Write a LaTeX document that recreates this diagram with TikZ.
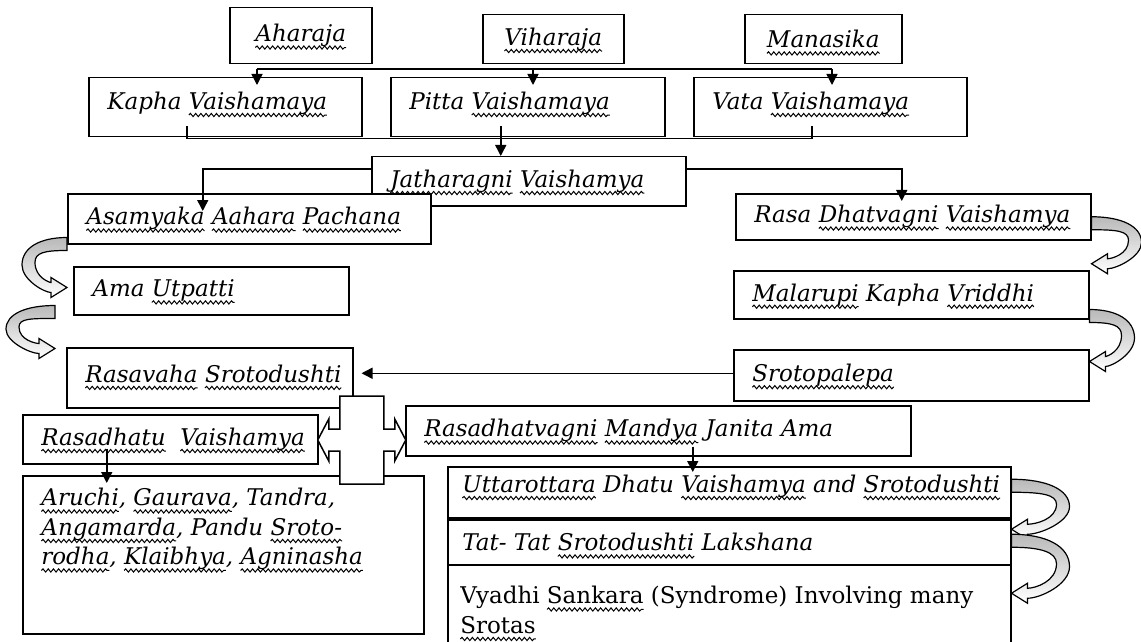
\documentclass[tikz,border=0pt]{standalone}
\usepackage{fontspec}
\setmainfont{DejaVu Serif}
\usetikzlibrary{arrows.meta}
\usetikzlibrary{calc}
\usetikzlibrary{decorations.pathmorphing}
\newcommand{\boxfont}{\fontsize{11.5}{14.75}\selectfont}
\newsavebox{\wavybox}
\newcommand{\wavy}[1]{\sbox{\wavybox}{#1}\rlap{\tikz[overlay, baseline=0pt]\draw[line width=0.5pt, decorate, decoration={snake, segment length=2.6pt, amplitude=0.8pt}] (0pt,-2.8pt) -- (\the\wd\wavybox,-2.8pt);}#1}

\begin{document}
\begin{tikzpicture}[x=0.5pt, y=-0.5pt,
		blk/.style={draw, line width=0.75pt, fill=white, anchor=north west, inner sep=0pt, font=\boxfont\itshape},
		lbl/.style={anchor=west, xshift=9.5pt, inner sep=0pt, align=left, font=\boxfont\itshape},
		arr/.style={-{Triangle[length=5.5pt,width=5.5pt]}, line width=0.75pt},
		bendfill/.style={draw, line width=0.6pt, top color=gray!55, bottom color=white},
		pics/bend/.style 2 args={code={
			\path[bendfill] (0,0) .. controls (0.6*#1,0) and (#1,0.2*#2) .. (#1,0.55*#2)
				.. controls (#1,0.85*#2) and (0.5*#1,#2+5) .. (16,#2+5) -- (16,#2+10) -- (0,#2) -- (16,#2-10) -- (16,#2-5)
				.. controls (0.5*#1-5,#2-5) and (#1-13,0.8*#2) .. (#1-13,0.5*#2)
				.. controls (#1-13,0.3*#2) and (0.5*#1,13) .. (0,13) -- cycle;
		}}]
		\useasboundingbox (0,0) rectangle (1141,642);

		\node[blk, minimum width=71pt, minimum height=28pt] (aha) at (229,7) {\wavy{Aharaja}};
		\node[blk, minimum width=70.5pt, minimum height=24.5pt] (vih) at (482,14) {\wavy{Viharaja}};
		\node[blk, minimum width=78.5pt, minimum height=24.5pt] (man) at (744,14) {\wavy{Manasika}};

		\node[blk, minimum width=136.5pt, minimum height=29.5pt, label={[lbl, yshift=2pt]west:{Kapha \wavy{Vaishamaya}}}] (kapha) at (88,77) {};
		\node[blk, minimum width=137pt, minimum height=29.5pt, label={[lbl, yshift=2pt]west:{Pitta \wavy{Vaishamaya}}}] (pitta) at (390,77) {};
		\node[blk, minimum width=136.5pt, minimum height=29.5pt, label={[lbl, yshift=2pt]west:{Vata \wavy{Vaishamaya}}}] (vata) at (693,77) {};

		\node[blk, minimum width=157pt, minimum height=24.5pt, label={[lbl]west:{\wavy{Jatharagni} \wavy{Vaishamya}}}] (jath) at (371,156) {};
		\node[blk, minimum width=181.5pt, minimum height=25pt, label={[lbl]west:{\wavy{Asamyaka} \wavy{Aahara} \wavy{Pachana}}}] (asam) at (67,193) {};
		\node[blk, minimum width=177.5pt, minimum height=23pt, label={[lbl]west:{Rasa \wavy{Dhatvagni} \wavy{Vaishamya}}}] (rasa) at (735,193) {};
		\node[blk, minimum width=137.5pt, minimum height=24pt, label={[lbl]west:{Ama \wavy{Utpatti}}}] (ama) at (73,266) {};
		\node[blk, minimum width=177.5pt, minimum height=24pt, label={[lbl]west:{\wavy{Malarupi} Kapha \wavy{Vriddhi}}}] (mala) at (733,270) {};
		\node[blk, minimum width=143pt, minimum height=30pt, label={[lbl, yshift=2pt]west:{\wavy{Rasavaha} \wavy{Srotodushti}}}] (rvaha) at (66,347) {};
		\node[blk, minimum width=177.5pt, minimum height=25.5pt, label={[lbl]west:{\wavy{Srotopalepa}}}] (srotp) at (733,349) {};
		\node[blk, minimum width=147.5pt, minimum height=24.5pt, label={[lbl]west:{\wavy{Rasadhatu}\ \ \wavy{Vaishamya}}}] (rdhatu) at (22,414) {};
		\node[blk, minimum width=252.5pt, minimum height=25pt, label={[lbl]west:{\wavy{Rasadhatvagni} \wavy{Mandya} Janita Ama}}] (mandya) at (405,405) {};

		\node[blk, minimum width=200.5pt, minimum height=79pt, label={[lbl, anchor=north west, yshift=-6.5pt]north west:{\wavy{Aruchi}, \wavy{Gaurava}, Tandra,\\ \wavy{Angamarda}, Pandu \wavy{Sroto-}\\ \wavy{rodha}, \wavy{Klaibhya}, \wavy{Agninasha}}}] (aruchi) at (22,475) {};

		\node[blk, minimum width=281.5pt, minimum height=25.5pt, label={[lbl, xshift=-2pt, yshift=3pt]west:{\wavy{Uttarottara} Dhatu \wavy{Vaishamya} and \wavy{Srotodushti}}}] (utta) at (447,466) {};
		\node[blk, minimum width=281.5pt, minimum height=22.5pt, label={[lbl, xshift=-2pt]west:{Tat- Tat \wavy{Srotodushti} Lakshana}}] (tat) at (447,519) {};
		\node[blk, minimum width=281.5pt, minimum height=43pt, label={[lbl, anchor=north west, xshift=-3pt, yshift=-11pt, font=\boxfont]north west:{Vyadhi \wavy{Sankara} (Syndrome) Involving many\\ \wavy{Srotas}}}] (vyadhi) at (447,564) {};

		\coordinate (bar-l) at (257,69);
		\coordinate (bar-m) at (533,69);
		\coordinate (bar-r) at (832,69);
		\draw[line width=0.75pt] (bar-l) -- (bar-r);
		\draw[arr, shorten >=-4pt] (bar-l) -- (bar-l |- kapha.north);
		\draw[arr, shorten >=-4pt] (bar-m) -- (bar-m |- pitta.north);
		\draw[arr, shorten >=-4pt] (bar-r) -- (bar-r |- vata.north);

		\draw[line width=0.75pt] ($(kapha.south west)+(99,-11)$) -- ++(0,12) -| ($(vata.south west)+(119,-11)$);
		\coordinate (pj) at ($(pitta.south)+(-27,-11)$);
		\draw[arr] (pj) -- (pj |- jath.north);

		\draw[arr, shorten >=-9pt] ($(jath.west)+(0,-12)$) -| ($(asam.north)+(-46.5,0)$);
		\draw[arr, shorten >=-4pt] ($(jath.east)+(0,-12)$) -| ($(rasa.north)+(-11.5,0)$);

		\coordinate (sr) at ($(srotp.west)+(0,-2)$);
		\draw[arr, shorten >=4pt] (sr) -- (sr -| rvaha.east);
		\coordinate (ra) at ($(rdhatu.south)+(-63.5,-16)$);
		\draw[arr, shorten >=-4pt] (ra) -- (ra |- aruchi.north);
		\coordinate (mu) at ($(mandya.south)+(34.5,-10)$);
		\draw[arr, shorten >=-3pt] (mu) -- (mu |- utta.north);

		\draw[line width=0.75pt, fill=white, shift={($(rdhatu.east)!0.5!(mandya.west)+(0,5)$)}]
			(-22,-44) -- (22,-44) -- (22,-11) -- (33,-11) -- (33,-21) -- (44,0) -- (33,21) -- (33,11) -- (22,11) -- (22,44)
			-- (-22,44) -- (-22,11) -- (-33,11) -- (-33,21) -- (-44,0) -- (-33,-21) -- (-33,-11) -- (-22,-11) -- cycle;

		\pic at (rasa.east) {bend={50}{47}};
		\pic at ($(mala.south east)+(0,-10)$) {bend={45}{52}};
		\pic at ($(utta.east)+(0,-13)$) {bend={58}{50}};
		\pic at ($(tat.east)+(0,-8)$) {bend={58}{59}};
		\pic[xscale=-1] at ($(asam.south west)+(0,-7)$) {bend={45}{50}};
		\pic[xscale=-1] at ($(ama.south west)+(-18,-10)$) {bend={49}{43}};
\end{tikzpicture}
\end{document}
